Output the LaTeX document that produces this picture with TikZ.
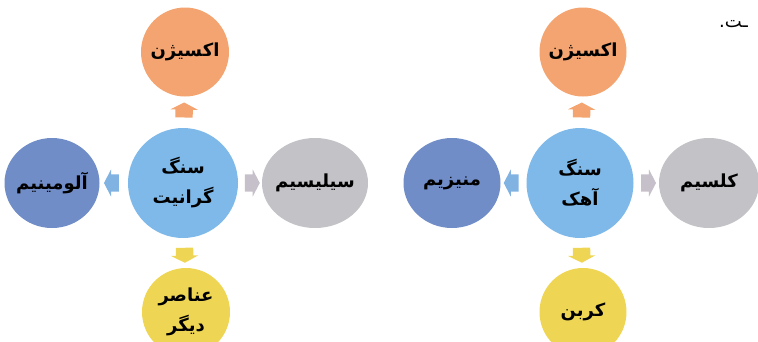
\documentclass[tikz,border=0pt]{standalone}
\usepackage{fontspec}
\newfontfamily\fafont[Script=Arabic]{DejaVu Sans}
\TeXXeTstate=1
\usetikzlibrary{shapes.geometric,shapes.arrows}
\newcommand{\fa}[1]{{\fafont\bfseries\beginR #1\endR}}
\definecolor{rockblue}{RGB}{126,185,233}
\definecolor{oxyorange}{RGB}{243,164,112}
\definecolor{metalblue}{RGB}{112,141,200}
\definecolor{siliconegray}{RGB}{194,194,199}
\definecolor{otheryellow}{RGB}{238,214,84}
\definecolor{arrowblue}{RGB}{128,178,226}
\definecolor{arrowgray}{RGB}{198,192,202}

\begin{document}
\begin{tikzpicture}[x=1pt, y=-1pt,
    elem/.style={ellipse, inner sep=-12pt, text=black, align=center,
        font=\fontsize{18}{30}\selectfont},
    flowarr/.style={single arrow, draw=none, inner xsep=0pt, inner ysep=8.5pt, minimum height=15pt,
        single arrow head extend=5pt, single arrow tip angle=125,
        sloped, allow upside down}]
    \useasboundingbox (0,0) rectangle (758,341);

    \begin{scope}
        \node[elem, fill=rockblue, minimum width=110pt, minimum height=110pt] (granite) at (183,183) {\fa{سنگ}\\\fa{گرانیت}};
        \node[elem, fill=oxyorange, minimum width=88pt, minimum height=89pt] (gOxy) at (185,52) {\fa{اکسیژن}};
        \node[elem, fill=metalblue, minimum width=95pt, minimum height=90pt] (gAl) at (52,183) {\fa{آلومینیم}};
        \node[elem, fill=siliconegray, minimum width=106pt, minimum height=90pt] (gSi) at (315,183) {\fa{سیلیسیم}};
        \node[elem, fill=otheryellow, minimum width=88pt, minimum height=88pt] (gOther) at (186,312) {\fa{عناصر}\\\fa{دیگر}};

        \path (granite) -- (gOxy) node[midway, flowarr, fill=oxyorange] (gArrOxy) {};
        \path (granite) -- (gAl) node[midway, flowarr, fill=arrowblue] (gArrAl) {};
        \path (granite) -- (gSi) node[midway, flowarr, fill=arrowgray] (gArrSi) {};
        \path (granite) -- (gOther) node[midway, flowarr, fill=otheryellow] (gArrOther) {};
    \end{scope}

    \begin{scope}
        \node[elem, fill=rockblue, minimum width=107pt, minimum height=110pt] (lime) at (580,183) {\fa{سنگ}\\\fa{آهک}};
        \node[elem, fill=oxyorange, minimum width=87pt, minimum height=89pt] (lOxy) at (583,52) {\fa{اکسیژن}};
        \node[elem, fill=metalblue, minimum width=97pt, minimum height=90pt] (lMg) at (452,183) {\fa{منیزیم}};
        \node[elem, fill=siliconegray, minimum width=100pt, minimum height=90pt] (lCa) at (709,183) {\fa{کلسیم}};
        \node[elem, fill=otheryellow, minimum width=87pt, minimum height=88pt] (lC) at (583,312) {\fa{کربن}};

        \path (lime) -- (lOxy) node[midway, flowarr, fill=oxyorange] (lArrOxy) {};
        \path (lime) -- (lMg) node[midway, flowarr, fill=arrowblue] (lArrMg) {};
        \path (lime) -- (lCa) node[midway, flowarr, fill=arrowgray] (lArrCa) {};
        \path (lime) -- (lC) node[midway, flowarr, fill=otheryellow] (lArrC) {};
    \end{scope}

    \node[anchor=east, inner sep=0pt, font=\fontsize{18}{20}\selectfont] (tail) at (748,24) {{\fafont\beginR ـت.\endR}};
\end{tikzpicture}
\end{document}
